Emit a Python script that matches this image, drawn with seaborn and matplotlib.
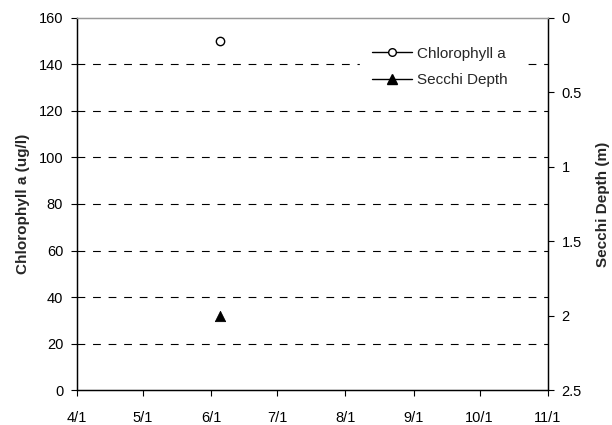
import pandas as pd
import matplotlib.pyplot as plt
import matplotlib.dates as mdates
from matplotlib.lines import Line2D
import seaborn as sns

# Sample data
dates = ["2008-06-05"]
chlorophyll = [150]
secchi = [2.0]

df = pd.DataFrame({
    "Date": pd.to_datetime(dates),
    "Chlorophyll": chlorophyll,
    "Secchi": secchi,
})

sns.set_style("white")
plt.rcParams["font.family"] = ["Liberation Sans", "DejaVu Sans"]
plt.rcParams["font.size"] = 10.5

fig, ax = plt.subplots(figsize=(6.12, 4.25), dpi=100)
fig.subplots_adjust(left=0.126, right=0.895, top=0.958, bottom=0.082)

sns.scatterplot(
    x="Date", y="Chlorophyll", data=df, ax=ax,
    marker="o", s=36, facecolor="white", edgecolor="black", linewidth=1.0,
    zorder=5
)

ax2 = ax.twinx()
sns.scatterplot(
    x="Date", y="Secchi", data=df, ax=ax2,
    marker="^", s=55, color="black", edgecolor="black", zorder=5
)

# Left axis
ax.set_ylim(0, 160)
ax.set_yticks(range(0, 161, 20))
ax.set_ylabel("Chlorophyll a (ug/l)", fontsize=11, fontweight="bold", labelpad=6)
for y in range(20, 160, 20):
    ax.axhline(y, color="black", linestyle=(0, (7, 7)), linewidth=0.8, zorder=1)

# Right axis (inverted)
ax2.set_ylim(2.5, 0)
ax2.set_yticks([0, 0.5, 1, 1.5, 2, 2.5])
ax2.set_yticklabels(["0", "0.5", "1", "1.5", "2", "2.5"])
ax2.set_ylabel("Secchi Depth (m)", fontsize=11, fontweight="bold", labelpad=10)

# X axis
ax.set_xlim(pd.Timestamp("2008-04-01"), pd.Timestamp("2008-11-01"))
ax.xaxis.set_major_locator(mdates.MonthLocator())
ax.xaxis.set_major_formatter(mdates.DateFormatter("%-m/%-d"))
ax.set_xlabel("")

for a in (ax, ax2):
    a.tick_params(direction="out", length=4, width=0.8, colors="black",
                  labelsize=10.5, pad=6)
    for side in ("left", "right", "bottom"):
        a.spines[side].set_color("black")
        a.spines[side].set_linewidth(0.9)
    a.spines["top"].set_color("#999999")
    a.spines["top"].set_linewidth(0.9)
ax.tick_params(axis="both", which="both", bottom=True, left=True)
ax2.tick_params(axis="y", right=True, left=False)
ax.tick_params(axis="x", pad=11)

handles = [
    Line2D([0], [0], color="black", lw=1, marker="o", markersize=5.5,
           markerfacecolor="white", markeredgecolor="black"),
    Line2D([0], [0], color="black", lw=1, marker="^", markersize=7,
           markerfacecolor="black", markeredgecolor="black"),
]
leg = ax2.legend(handles, ["Chlorophyll a", "Secchi Depth"],
                 loc="upper left", bbox_to_anchor=(0.601, 0.955),
                 frameon=True, fontsize=11, handlelength=2.6,
                 handletextpad=0.35, labelspacing=0.8, borderpad=0.8,
                 borderaxespad=0)
leg.get_frame().set_facecolor("white")
leg.get_frame().set_edgecolor("white")
leg.get_frame().set_alpha(1)
leg.get_frame().set_boxstyle("square", pad=0)

plt.savefig("out.png", dpi=100)
